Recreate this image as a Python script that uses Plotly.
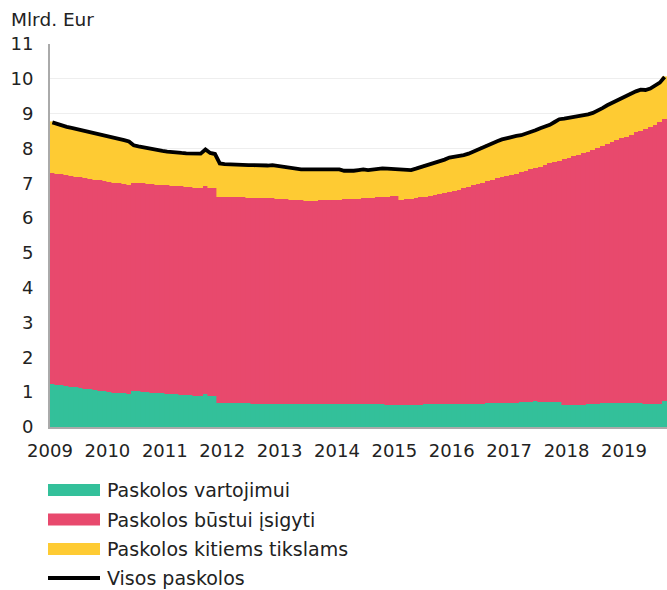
import plotly.graph_objects as go

# monthly data, Jan 2009 - Sep 2019, bn EUR
start_year = 2009
years = list(range(2009, 2020))

consumer = [
    1.24, 1.22, 1.20, 1.18, 1.16, 1.14, 1.12, 1.10, 1.08, 1.06, 1.04, 1.02,
    1.00, 0.99, 0.98, 0.97, 0.96, 1.03, 1.02, 1.01, 1.00, 0.99, 0.98, 0.97,
    0.96, 0.95, 0.94, 0.93, 0.92, 0.91, 0.90, 0.89, 0.94, 0.88, 0.88, 0.68,
    0.68, 0.68, 0.68, 0.68, 0.68, 0.68, 0.67, 0.67, 0.67, 0.67, 0.67, 0.67,
    0.66, 0.66, 0.66, 0.66, 0.66, 0.66, 0.66, 0.66, 0.67, 0.66, 0.66, 0.66,
    0.66, 0.66, 0.66, 0.66, 0.66, 0.66, 0.66, 0.66, 0.66, 0.65, 0.64, 0.63,
    0.63, 0.63, 0.63, 0.63, 0.64, 0.64, 0.65, 0.65, 0.65, 0.65, 0.66, 0.66,
    0.66, 0.66, 0.67, 0.67, 0.67, 0.67, 0.67, 0.68, 0.68, 0.68, 0.69, 0.69,
    0.70, 0.70, 0.71, 0.71, 0.71, 0.74, 0.72, 0.72, 0.72, 0.72, 0.72, 0.63,
    0.63, 0.63, 0.63, 0.64, 0.65, 0.66, 0.67, 0.68, 0.68, 0.68, 0.69, 0.69,
    0.69, 0.69, 0.68, 0.68, 0.67, 0.67, 0.67, 0.67, 0.74,
]

housing = [
    6.06, 6.06, 6.06, 6.05, 6.05, 6.05, 6.05, 6.05, 6.05, 6.04, 6.04, 6.04,
    6.04, 6.03, 6.02, 6.01, 6.00, 5.99, 5.99, 5.99, 5.99, 5.98, 5.98, 5.98,
    5.98, 5.98, 5.98, 5.98, 5.98, 5.98, 5.97, 5.97, 5.99, 5.99, 5.98, 5.94,
    5.94, 5.93, 5.93, 5.92, 5.92, 5.91, 5.92, 5.91, 5.91, 5.90, 5.90, 5.89,
    5.89, 5.88, 5.87, 5.86, 5.85, 5.84, 5.84, 5.84, 5.84, 5.85, 5.86, 5.86,
    5.87, 5.88, 5.89, 5.89, 5.90, 5.91, 5.92, 5.93, 5.94, 5.96, 5.98, 6.00,
    6.00, 5.90, 5.91, 5.93, 5.94, 5.96, 5.97, 5.99, 6.01, 6.04, 6.06, 6.10,
    6.13, 6.16, 6.19, 6.23, 6.27, 6.31, 6.35, 6.38, 6.42, 6.46, 6.49, 6.52,
    6.54, 6.58, 6.61, 6.65, 6.69, 6.70, 6.76, 6.80, 6.85, 6.89, 6.93, 7.07,
    7.10, 7.14, 7.18, 7.22, 7.26, 7.30, 7.35, 7.40, 7.46, 7.51, 7.55, 7.60,
    7.65, 7.71, 7.78, 7.83, 7.90, 7.96, 8.01, 8.09, 8.12,
]

other = [
    1.45, 1.42, 1.40, 1.39, 1.38, 1.37, 1.36, 1.35, 1.34, 1.34, 1.33, 1.32,
    1.30, 1.28, 1.27, 1.26, 1.24, 1.07, 1.05, 1.03, 1.01, 1.00, 0.99, 0.98,
    0.97, 0.96, 0.96, 0.96, 0.96, 0.96, 0.98, 0.99, 1.04, 1.00, 0.98, 0.95,
    0.93, 0.93, 0.92, 0.92, 0.92, 0.93, 0.93, 0.93, 0.93, 0.94, 0.95, 0.94,
    0.92, 0.90, 0.90, 0.89, 0.89, 0.90, 0.90, 0.90, 0.90, 0.90, 0.90, 0.90,
    0.87, 0.82, 0.80, 0.81, 0.82, 0.83, 0.80, 0.81, 0.82, 0.82, 0.80, 0.78,
    0.77, 0.85, 0.83, 0.82, 0.84, 0.86, 0.90, 0.92, 0.92, 0.93, 0.96, 0.98,
    0.97, 0.96, 0.95, 0.95, 0.97, 1.00, 1.03, 1.05, 1.06, 1.07, 1.08, 1.09,
    1.10, 1.08, 1.06, 1.06, 1.07, 1.08, 1.10, 1.11, 1.11, 1.15, 1.19, 1.16,
    1.15, 1.13, 1.11, 1.09, 1.07, 1.06, 1.06, 1.08, 1.10, 1.12, 1.13, 1.15,
    1.18, 1.18, 1.18, 1.18, 1.11, 1.09, 1.12, 1.13, 1.19,
]

total = [
    8.75, 8.70, 8.66, 8.62, 8.59, 8.56, 8.53, 8.50, 8.47, 8.44, 8.41, 8.38,
    8.34, 8.30, 8.27, 8.24, 8.20, 8.09, 8.06, 8.03, 8.00, 7.97, 7.95, 7.93,
    7.91, 7.89, 7.88, 7.87, 7.86, 7.85, 7.85, 7.85, 7.97, 7.87, 7.84, 7.57,
    7.55, 7.54, 7.53, 7.52, 7.52, 7.52, 7.52, 7.51, 7.51, 7.51, 7.52, 7.50,
    7.47, 7.44, 7.43, 7.41, 7.40, 7.40, 7.40, 7.40, 7.41, 7.41, 7.42, 7.42,
    7.40, 7.36, 7.35, 7.36, 7.38, 7.40, 7.38, 7.40, 7.42, 7.43, 7.42, 7.41,
    7.40, 7.38, 7.37, 7.38, 7.42, 7.46, 7.52, 7.56, 7.58, 7.62, 7.68, 7.74,
    7.76, 7.78, 7.81, 7.85, 7.91, 7.98, 8.05, 8.11, 8.16, 8.21, 8.26, 8.30,
    8.34, 8.36, 8.38, 8.42, 8.47, 8.52, 8.58, 8.63, 8.68, 8.76, 8.84, 8.86,
    8.88, 8.90, 8.92, 8.95, 8.98, 9.02, 9.08, 9.16, 9.24, 9.31, 9.37, 9.44,
    9.52, 9.58, 9.64, 9.69, 9.68, 9.72, 9.80, 9.89, 10.05,
]

names = ["Paskolos vartojimui", "Paskolos būstui įsigyti",
         "Paskolos kitiems tikslams", "Visos paskolos"]
colors = ["#33c09a", "#e8496d", "#fecb33", "#000000"]

n = len(total)
x = [start_year + (i + 0.5) / 12 for i in range(n)]

# plot area in pixels
L, T, W, H = 50, 44, 617, 383


def px(xp):
    return (xp - L) / W


def py(yp):
    return (T + H - yp) / H


fig = go.Figure()
for vals, name, col in zip([consumer, housing, other], names, colors):
    fig.add_trace(go.Bar(x=x, y=vals, name=name, width=1 / 12,
                         marker=dict(color=col, line=dict(color=col, width=0.6)),
                         showlegend=False))
fig.add_trace(go.Scatter(x=x, y=total, name=names[3], mode="lines",
                         line=dict(color="#000000", width=3.8),
                         showlegend=False, cliponaxis=False))

# legend drawn by hand, wide swatches like the original
leg_y = [490, 519.5, 549, 578]
for i, (name, col) in enumerate(zip(names, colors)):
    if i < 3:
        fig.add_shape(type="rect", xref="paper", yref="paper",
                      x0=px(48), x1=px(100), y0=py(leg_y[i] + 6), y1=py(leg_y[i] - 6),
                      fillcolor=col, line_width=0)
    else:
        fig.add_shape(type="line", xref="paper", yref="paper",
                      x0=px(48), x1=px(100), y0=py(leg_y[i]), y1=py(leg_y[i]),
                      line=dict(color=col, width=4))
    fig.add_annotation(text=name, xref="paper", yref="paper",
                       x=px(105), y=py(leg_y[i]), xanchor="left", yanchor="middle",
                       showarrow=False, font=dict(size=19))

fig.add_annotation(text="Mlrd. Eur", xref="paper", yref="paper",
                   x=px(9), y=py(20), xanchor="left", yanchor="middle",
                   showarrow=False, font=dict(size=18.5))

fig.update_layout(
    width=667, height=590,
    margin=dict(l=L, r=0, t=T, b=590 - T - H),
    plot_bgcolor="white", paper_bgcolor="white",
    barmode="stack", bargap=0,
    font=dict(family="DejaVu Sans", size=18, color="#222222"),
    xaxis=dict(range=[start_year, start_year + n / 12], tickvals=years,
               ticktext=[str(y) for y in years], showgrid=False,
               showline=True, linecolor="#aaaaaa", linewidth=2,
               ticks="", zeroline=False, ticklabelstandoff=6),
    yaxis=dict(range=[0, 11], dtick=1, showgrid=True, gridcolor="#eeeeee",
               showline=True, linecolor="#aaaaaa", linewidth=2,
               ticks="", zeroline=False, ticklabelstandoff=11),
)

fig.write_html("out.html", config={"displayModeBar": False},
               post_script="document.body.style.margin='0px';")
